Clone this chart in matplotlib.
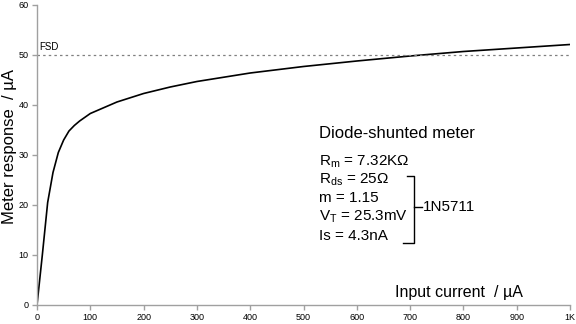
import matplotlib
matplotlib.use("Agg")
import matplotlib.pyplot as plt

plt.rcParams['font.family'] = ['Liberation Sans', 'DejaVu Sans']
plt.rcParams['mathtext.fontset'] = 'custom'
plt.rcParams['mathtext.rm'] = 'Liberation Sans'
plt.rcParams['mathtext.it'] = 'Liberation Sans'

# Curve
input_ua = [0, 10, 20, 30, 40, 50, 60, 70, 80, 100, 150, 200, 250, 300,
            400, 500, 600, 700, 800, 900, 1000]
meter_ua = [0, 10, 20.5, 26.5, 30.5, 33, 34.8, 35.9, 36.8, 38.3, 40.6, 42.3,
            43.6, 44.7, 46.4, 47.7, 48.8, 49.8, 50.7, 51.4, 52.1]

x_ticks = [0, 100, 200, 300, 400, 500, 600, 700, 800, 900, 1000]
x_tick_labels = ['0', '100', '200', '300', '400', '500', '600', '700', '800', '900', '1K']
y_ticks = [0, 10, 20, 30, 40, 50, 60]
fsd = 50

title_text = "Diode-shunted meter"
param_lines = [r"R$_{\mathrm{m}}$ = 7.32KΩ",
               r"R$_{\mathrm{ds}}$ = 25Ω",
               "m = 1.15",
               r"V$_{\mathrm{T}}$ = 25.3mV",
               "Is = 4.3nA"]
diode_name = "1N5711"

fig = plt.figure(figsize=(5.76, 3.24), dpi=100)
ax = fig.add_axes([37/576, 19/324, 533/576, 300/324])

ax.plot(input_ua, meter_ua, color='black', lw=1.2)
ax.axhline(fsd, color='#808080', lw=0.9, ls=(0, (2, 2.5)))
ax.text(4, fsd + 0.6, "FSD", fontsize=7, va='bottom', ha='left')

ax.set_xlim(0, 1000)
ax.set_ylim(0, 60)
ax.set_xticks(x_ticks)
ax.set_xticklabels(x_tick_labels)
ax.set_yticks(y_ticks)
ax.tick_params(labelsize=6.5, length=3.6, color='#a0a0a0', width=1, pad=2.5)
for side in ['top', 'right']:
    ax.spines[side].set_visible(False)
for side in ['left', 'bottom']:
    ax.spines[side].set_color('#a0a0a0')
    ax.spines[side].set_linewidth(1)

ax.set_ylabel("Meter response  / µA", fontsize=12)
ax.yaxis.set_label_coords(-0.038, 0.53)
ax.text(672, 0.9, "Input current  / µA", fontsize=11.5, ha='left', va='bottom')

# annotation block
ax.text(529, 34.4, title_text, fontsize=12, ha='left', va='center')
ys = [28.6, 25.0, 21.4, 17.6, 13.8]
for s, y in zip(param_lines, ys):
    ax.text(529, y, s, fontsize=11, ha='left', va='center')

ax.plot([694, 707, 707, 687], [25.8, 25.8, 12.4, 12.4], color='black', lw=1)
ax.plot([707, 722], [19.6, 19.6], color='black', lw=1)
ax.text(724, 19.6, diode_name, fontsize=11, ha='left', va='center')

fig.savefig("out.png", dpi=100)
